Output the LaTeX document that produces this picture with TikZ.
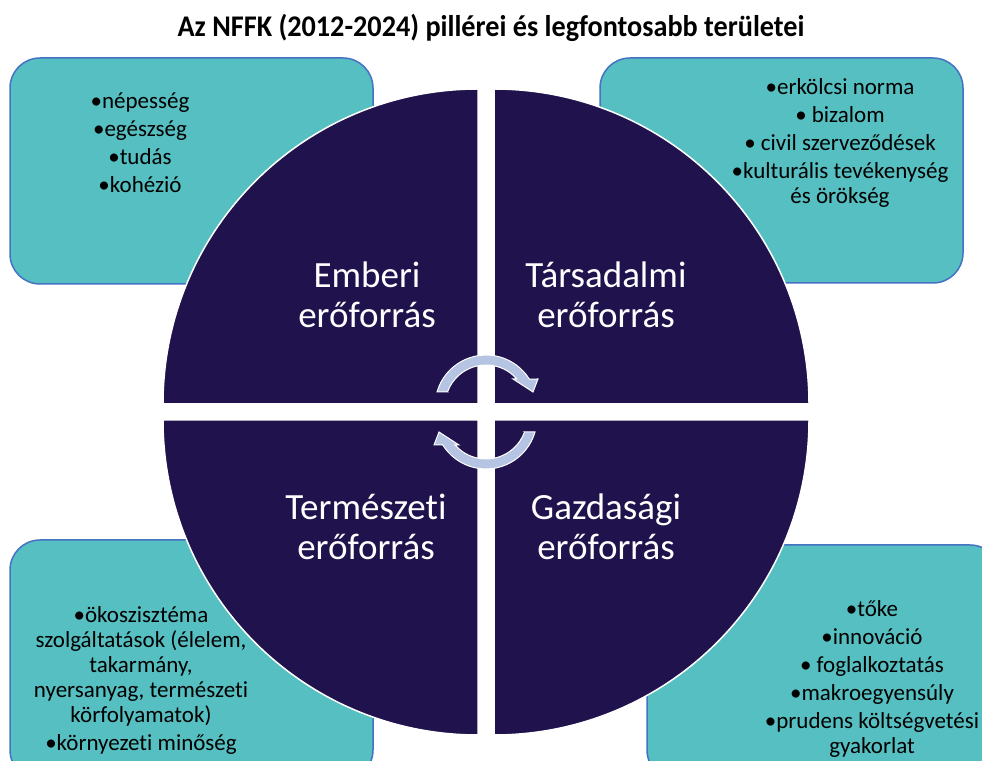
\documentclass[tikz,border=0pt]{standalone}
\usepackage{graphicx}
\usepackage{fontspec}
\setmainfont{Carlito}[Ligatures=NoCommon]
\usepackage{tikz}
\usetikzlibrary{%
  calc,
  positioning,
}

\definecolor{nfpurple}{RGB}{32,18,77}
\definecolor{nfteal}{RGB}{86,191,193}
\definecolor{nfblue}{RGB}{68,114,196}
\definecolor{nflilac}{RGB}{180,196,226}

\tikzset{
  areabox/.style={draw=nfblue, line width=1.5pt,
    fill=nfteal, rounded corners=30pt},
  areatext/.style={align=center, text=black,
    font=\fontsize{23}{25}\selectfont},
  quarter/.style={fill=nfpurple, draw=white, line width=1.5pt},
  pillartext/.style={align=center, text=white,
    font=\fontsize{37}{40}\selectfont},
  turnarrow/.style={fill=nflilac, draw=white, line width=1pt},
}

\begin{document}
\begin{tikzpicture}[x=1pt, y=1pt]
        \useasboundingbox (0,0) rectangle (982,760);
        \clip (0,0) rectangle (982,760);
        % 1 unit = 1 pixel of the reference

        \node (title) at (491,732)
          {\scalebox{0.94}[1]{\bfseries\fontsize{30}{36}\selectfont
            Az NFFK (2012-2024) pillérei és legfontosabb területei}};

        % corner boxes
        \draw[areabox] (10,476) rectangle (373,702);
        \draw[areabox] (600,477) rectangle (963,702);
        \draw[areabox] (10,-20) rectangle (373,220);
        \draw[areabox] (647,-20) rectangle (1000,215);

        \node[areatext] (human) at (140,617)
          {•népesség\\[3pt]•egészség\\[3pt]•tudás\\[3pt]•kohézió};
        \node[areatext] (social) at (840,617)
          {•erkölcsi norma\\[3pt]• bizalom\\[3pt]• civil szerveződések\\[3pt]%
           •kulturális tevékenység\\és örökség};
        \node[areatext] (nature) at (141,80)
          {•ökoszisztéma\\szolgáltatások (élelem,\\takarmány,\\%
           nyersanyag, természeti\\körfolyamatok)\\[3pt]•környezeti minőség};
        \node[areatext] (economy) at (872,81)
          {•tőke\\[3pt]•innováció\\[3pt]• foglalkoztatás\\[3pt]%
           •makroegyensúly\\[3pt]•prudens költségvetési\\gyakorlat};

        % the four pillars
        \coordinate (M) at (486,348);
        \draw[quarter] ($(M)+(-8,8)$) -- ++(-315,0)
          arc[start angle=180, end angle=90, radius=315] -- cycle;
        \draw[quarter] ($(M)+(8,8)$) -- ++(0,315)
          arc[start angle=90, end angle=0, radius=315] -- cycle;
        \draw[quarter] ($(M)+(-8,-8)$) -- ++(0,-315)
          arc[start angle=270, end angle=180, radius=315] -- cycle;
        \draw[quarter] ($(M)+(8,-8)$) -- ++(315,0)
          arc[start angle=0, end angle=-90, radius=315] -- cycle;

        \node[pillartext] (emberi) at (367,465) {Emberi\\erőforrás};
        \node[pillartext] (tarsadalmi) at (606,465) {Társadalmi\\erőforrás};
        \node[pillartext] (termeszeti) at (366,233) {Természeti\\erőforrás};
        \node[pillartext] (gazdasagi) at (606,233) {Gazdasági\\erőforrás};

        % the two turning arrows
        \foreach \c/\a in {354/0, 342/180} {
          \begin{scope}[shift={(486,\c)}, rotate=\a]
            \draw[turnarrow] (-38.5,14) -- (-49,14)
              arc[start angle=164, end angle=32, radius=51]
              -- (52,27) -- (47,14) -- (27,27) -- (30.85,27)
              arc[start angle=41.2, end angle=160, radius=41] -- cycle;
          \end{scope}
        }
      \end{tikzpicture}
\end{document}
